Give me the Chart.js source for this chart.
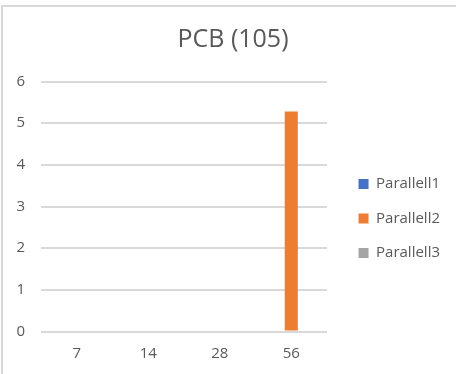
<!DOCTYPE html>
<html>
<head>
<meta charset="utf-8">
<script src="https://cdn.jsdelivr.net/npm/chart.js@4"></script>
<style>
    html, body { margin: 0; padding: 0; background: #fff; }
    #wrap { position: relative; width: 456px; height: 374px; overflow: hidden; }
    #frame {
        position: absolute; left: 1px; top: 5px; width: 470px; height: 367px;
        border-top: 2px solid #d9d9d9; border-left: 2px solid #d9d9d9;
        pointer-events: none;
    }
</style>
</head>
<body>
<div id="wrap">
    <canvas id="chart" width="456" height="374"></canvas>
    <div id="frame"></div>
</div>
<script>
const TITLE = 'PCB (105)';
const categories = ['7', '14', '28', '56'];
const parallell1 = [0, 0, 0, 0];
const parallell2 = [0, 0, 0, 5.28];
const parallell3 = [0, 0, 0, 0];
const yTicks = [0, 1, 2, 3, 4, 5, 6];

const TEXT_COLOR = '#595959';
const GRID_COLOR = '#d9d9d9';
const FONT = "'Open Sans', sans-serif";

Chart.defaults.font.family = FONT;
Chart.defaults.color = TEXT_COLOR;

const ctx = document.getElementById('chart').getContext('2d');
const myChart = new Chart(ctx, {
    type: 'bar',
    data: {
        labels: categories,
        datasets: [
            { label: 'Parallell1', data: parallell1, backgroundColor: '#4472c4' },
            { label: 'Parallell2', data: parallell2, backgroundColor: '#ed7d31' },
            { label: 'Parallell3', data: parallell3, backgroundColor: '#a5a5a5' },
        ]
    },
    options: {
        responsive: false,
        animation: false,
        categoryPercentage: 0.55,
        barPercentage: 1.0,
        layout: { autoPadding: false, padding: { left: 16, right: 6, top: 0, bottom: -1.5 } },
        plugins: {
            title: {
                display: true,
                text: TITLE,
                color: TEXT_COLOR,
                font: { size: 25, weight: 'normal' },
                padding: { top: 25, bottom: 26.5 }
            },
            legend: {
                position: 'right',
                fullSize: false,
                maxWidth: 140,
                title: { display: true, text: '', font: { size: 10, lineHeight: 1 }, padding: { top: 14, bottom: 0 } },
                labels: {
                    boxWidth: 10,
                    boxHeight: 10,
                    padding: 19.5,
                    color: TEXT_COLOR,
                    font: { size: 15 }
                }
            },
            tooltip: { enabled: false }
        },
        scales: {
            x: {
                grid: { display: false, drawTicks: false },
                border: { display: false },
                ticks: { padding: 13, font: { size: 15 }, color: TEXT_COLOR, maxRotation: 0 }
            },
            y: {
                min: yTicks[0],
                max: yTicks[yTicks.length - 1],
                grid: { color: GRID_COLOR, lineWidth: 2, drawTicks: false },
                border: { display: false },
                afterBuildTicks: axis => { axis.ticks = yTicks.map(v => ({ value: v })); },
                afterFit: s => { s.width = 25; },
                ticks: { padding: 16, font: { size: 15 }, color: TEXT_COLOR }
            },
            gap: {
                type: 'linear',
                position: 'right',
                display: true,
                grid: { display: false },
                border: { display: false },
                ticks: { display: false },
                afterFit: s => { s.width = 12; }
            }
        }
    }
});
</script>
</body>
</html>
